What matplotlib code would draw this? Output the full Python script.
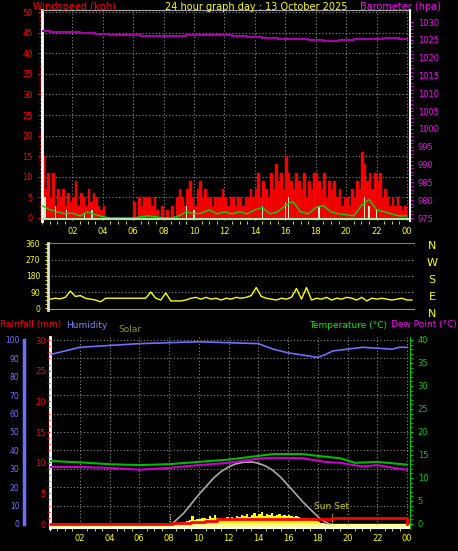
import matplotlib
matplotlib.use("Agg")
import matplotlib.pyplot as plt
import numpy as np

W, H = 458, 551
# ---------------- data ----------------
gust = [15,7,11,5,11,3, 7,5,7,3,6,4, 5,9,3,6,5,3, 7,4,6,5,3,2, 3,0,0,0,0,0, 0,0,0,0,0,0,
        4,0,5,3,5,5, 5,3,5,2,0,3, 0,2,0,3,0,5, 7,5,3,7,9,5, 3,7,9,5,7,5, 5,3,5,5,5,7,
        5,3,5,5,3,5, 5,3,5,5,7,5, 7,11,5,9,7,5, 11,7,13,9,11,7, 15,11,9,7,11,9, 7,11,5,9,7,11,
        11,9,7,11,5,9, 7,9,5,7,3,5, 5,3,7,5,9,7, 16,13,9,11,7,11, 9,11,5,7,5,3, 5,3,5,3,2,3]
avg_wind = [3,2,1.5,1,1.2,0.5,1.5,0.8,0.3,0,0,0,0,0.3,0.5,0.3,0,0,0.5,1.5,1,1.2,2,1,1.5,1,
            1.5,1,2,2.5,1,1.5,3,4,1.5,1,2.5,3,1.5,1,0.8,0.5,3,4.5,2,1.5,1,0.5,0.5]
lull_t = [0.2,0.9,1.6,2.8,3.3,9.5,10.0,14.5,16.0,16.2,18.2,21.2,21.5,22.0]
lull_v = [5,3,2,1,2,3,2,3,4,5,3,5,3,2]
baro = [1027.6,1027.3,1027.3,1027.0,1026.7,1026.5,1026.3,1026.2,1026.2,1026.2,1026.3,1026.3,1026.3,
        1026.0,1025.8,1025.6,1025.3,1025.2,1025.0,1024.8,1025.1,1025.3,1025.3,1025.6,1025.3]
wdir = [50,55,52, 60,95,65, 70,55,50, 45,35,55, 55,55,55, 55,55,55, 55,55,90, 55,45,85,
        40,40,40, 45,55,60, 50,60,50, 55,45,55, 50,60,55, 60,70,115, 65,55,50, 45,55,50,
        60,110,50, 115,45,55, 50,60,45, 55,50,60, 55,45,60, 40,55,50, 55,50,45, 50,55,45, 45]
hum_t = [0,0.5,1.5,2,4,6,10,14,15,16,18,18.5,19,20,21,23,23.5,24]
hum_v = [92,93,95,96,97,98,99,98,95,93,90.5,92,94,95,96,95,96,96]
temp_t = [0,2,4,6,8,10,12,14,15,17,18,19.5,20.5,22,24]
temp_v = [13.7,13.4,13.0,12.8,13.0,13.5,14.0,14.8,15.2,15.2,14.8,14.3,13.3,13.5,12.9]
dew_t = [0,2,4,6,8,10,12,14,15,17,18.5,19.5,21,22,23.5,24]
dew_v = [12.4,12.4,12.2,11.8,12.2,12.8,13.3,14.2,14.4,14.3,13.5,13.3,12.5,12.8,12.0,11.8]
rain_t = [0,8.3,9.5,10.4,11.2,19.0,24.0]
rain_v = [0,0.1,0.3,0.5,0.8,1.0,0]
solar_v = [0,0,2,5,8,10, 12,15,20,45,20,25, 25,30,35,25,45,30, 50,30,35,25,35,40,
           35,40,35,45,40,50, 45,55,40,50,60,45, 55,65,45,55,50,60, 45,50,55,45,50,45,
           50,45,40,45,40,35, 35,30,25,20,35,15, 10,5,3,0,0,0]
solar_max_t = [8.2,9,9.5,10,10.5,11,11.5,12,12.5,13,13.6,14,14.5,15,15.5,16,16.5,17,17.5,18,18.4,18.8]
solar_max_v = [0,60,110,160,205,250,285,310,327,335,337,330,315,290,255,210,165,120,80,40,15,0]
sunrise, sunset = 8.05, 18.95
hour_labels = ["02","04","06","08","10","12","14","16","18","20","22","00"]

# ---------------- helpers ----------------
fig = plt.figure(figsize=(W/100, H/100), dpi=100, facecolor="black")
def rect(x0, y0, x1, y1):
    return [x0/W, 1-y1/H, (x1-x0)/W, (y1-y0)/H]
GRID = dict(color="#8a8a8a", linestyle=(0,(1,2)), linewidth=0.8)
FS = 6
def style(ax):
    ax.set_facecolor("black")
    for s in ax.spines.values():
        s.set_visible(False)
    ax.tick_params(labelsize=FS)
def hours(ax, xmax):
    ax.set_xlim(0, xmax)
    ax.set_xticks(np.arange(2, 25, 2))
    ax.set_xticklabels(hour_labels, color="yellow", fontsize=FS)
    ax.set_xticks(np.arange(0, 24.01, 0.5), minor=True)
    ax.tick_params(axis="x", which="both", colors="yellow", length=2)
    ax.tick_params(axis="x", which="major", length=0, pad=4, labelcolor="yellow")

# ---------------- top panel ----------------
ax1 = fig.add_axes(rect(42, 10, 410, 221))
style(ax1)
hours(ax1, 24.2)
ax1.set_ylim(-0.73, 50.5)
ax1.set_yticks(np.arange(0, 51, 5))
ax1.set_yticks(np.arange(0, 51, 1), minor=True)
ax1.tick_params(axis="y", which="both", colors="red", labelcolor="red", length=2)
ax1.tick_params(axis="y", which="major", length=3)
for y in range(5, 51, 5):
    ax1.axhline(y, **GRID, zorder=0)
for x in range(2, 25, 2):
    ax1.axvline(x, **GRID, zorder=0)
ax1.spines["left"].set_visible(True); ax1.spines["left"].set_color("white"); ax1.spines["left"].set_linewidth(2)
ax1.spines["top"].set_visible(True); ax1.spines["top"].set_color("#aaaaaa")
tg = np.arange(len(gust)) / 6
ax1.bar(tg, gust, width=1/6, align="edge", color="#ff0000", edgecolor="#cc0000", linewidth=0.3, zorder=2)
ax1.bar(lull_t, lull_v, width=0.1, color="#c8eec8", zorder=3)
ax1.plot(np.arange(len(avg_wind))*0.5, avg_wind, color="#00dd00", lw=1, zorder=4)
ax1.axhline(-0.3, color="#b0e8b0", lw=1.5, zorder=4)
axb = ax1.twinx()
style(axb)
axb.set_ylim(974.16, 1033.4)
axb.set_yticks(np.arange(975, 1031, 5))
axb.set_yticks(np.arange(975, 1031, 1), minor=True)
axb.tick_params(axis="y", which="both", colors="#ff00ff", labelcolor="#ff00ff", length=2)
axb.spines["right"].set_visible(True); axb.spines["right"].set_color("white"); axb.spines["right"].set_linewidth(1.5)
axb.plot(np.arange(25), baro, color="#aa00aa", lw=1.5, drawstyle="steps-mid")
HF = 7
fig.text(33/W, 1-7/H, "Windspeed (kph)", color="red", fontsize=HF, va="center")
fig.text(256/W, 1-7/H, "24 hour graph day : 13 October 2025", color="yellow", fontsize=HF, va="center", ha="center")
fig.text(441/W, 1-7/H, "Barometer (hpa)", color="#ff00ff", fontsize=HF, va="center", ha="right")

# ---------------- wind direction panel ----------------
ax2 = fig.add_axes(rect(48, 243, 415, 310))
style(ax2)
ax2.set_xlim(-0.15, 24.2)
ax2.set_xticks([])
ax2.set_ylim(-11, 365)
ax2.set_yticks([0, 90, 180, 270, 360])
ax2.set_yticks(np.arange(0, 361, 22.5), minor=True)
ax2.tick_params(axis="y", which="both", colors="yellow", labelcolor="yellow", length=2, labelsize=5.5)
for y in [90, 180, 270]:
    ax2.axhline(y, **GRID, zorder=0)
ax2.axhline(365, color="#999999", lw=1.2); ax2.axhline(-11, color="#999999", lw=1.5)
ax2.spines["left"].set_visible(True); ax2.spines["left"].set_color("#dddddd"); ax2.spines["left"].set_linewidth(2)
ax2.plot(np.arange(len(wdir))/3, wdir, color="yellow", lw=1.0)
for lab, yy in zip("NWSEN", [246, 263, 280, 297, 314]):
    fig.text(432/W, 1-yy/H, lab, color="yellow", fontsize=8, ha="center", va="center")

# ---------------- bottom panel ----------------
ax3 = fig.add_axes(rect(50, 337, 410, 528))
style(ax3)
hours(ax3, 24.2)
ax3.set_ylim(-2.2, 101.6)
ax3.set_yticks([])
for y in range(10, 101, 10):
    ax3.axhline(y, **GRID, zorder=0)
for x in range(2, 25, 2):
    ax3.axvline(x, **GRID, zorder=0)
ax3.spines["left"].set_visible(True); ax3.spines["left"].set_color("white"); ax3.spines["left"].set_linewidth(2)
ax3.spines["bottom"].set_visible(True); ax3.spines["bottom"].set_color("white"); ax3.spines["bottom"].set_linewidth(1.5)
ax3.axhspan(-2.2, 0, color="#ffff99", zorder=1)
ax3.plot(hum_t, hum_v, color="#7070ff", lw=1.2, zorder=5)

axs = ax3.twinx(); style(axs); axs.set_yticks([])
axs.set_ylim(-21.7, 1016)
ts = 8 + np.arange(len(solar_v)) / 6
axs.fill_between(ts, solar_v, 0, color="yellow", step="post", lw=0, zorder=2)
axs.plot(solar_max_t, solar_max_v, color="#aaaaaa", lw=1.2, zorder=3)
for x in (sunrise, sunset):
    axs.plot([x, x], [0, 60], color="yellow", lw=0.8, linestyle=(0,(1,1)))
axs.text(sunset, 70, "Sun Set", color="#cccc00", fontsize=6.5, ha="center", va="bottom")

axt = ax3.twinx(); style(axt)
axt.set_ylim(-0.87, 40.65)
axt.set_yticks(np.arange(0, 41, 5))
axt.set_yticks(np.arange(0, 41, 1), minor=True)
axt.tick_params(axis="y", which="both", colors="#00cc00", labelcolor="#00cc00", length=2)
axt.spines["right"].set_visible(True); axt.spines["right"].set_color("#00cc00")
axt.plot(dew_t, dew_v, color="#cc00cc", lw=1.5, zorder=4)
axt.plot(temp_t, temp_v, color="#00bb00", lw=1.5, zorder=5)

axr = ax3.twinx(); style(axr)
axr.set_ylim(-0.65, 30.49)
axr.yaxis.tick_left()
axr.set_yticks(np.arange(0, 31, 5))
axr.set_yticks(np.arange(0, 31, 1), minor=True)
axr.tick_params(axis="y", which="both", colors="red", labelcolor="red", length=2, pad=1)
axr.plot(rain_t, rain_v, color="red", lw=2, drawstyle="steps-post", zorder=6)

axh = ax3.twinx(); style(axh)
axh.set_ylim(-2.2, 101.6)
axh.yaxis.tick_left()
axh.spines["left"].set_visible(True)
axh.spines["left"].set_position(("outward", 19))
axh.spines["left"].set_color("#7070ff"); axh.spines["left"].set_linewidth(2.5)
axh.spines["left"].set_bounds(0, 100)
axh.set_yticks(np.arange(0, 101, 10))
axh.tick_params(axis="y", colors="#7070ff", labelcolor="#7070ff", length=0, pad=3, labelsize=5.5)

fig.text(0, 1-325/H, "Rainfall (mm)", color="red", fontsize=6.5, va="center")
fig.text(66/W, 1-325/H, "Humidity", color="#8080ff", fontsize=6.5, va="center")
fig.text(118/W, 1-330/H, "Solar", color="#999900", fontsize=6.5, va="center")
fig.text(387/W, 1-325/H, "Temperature (°C)", color="#00ee00", fontsize=6.5, va="center", ha="right")
fig.text(457/W, 1-325/H, "Dew Point (°C)", color="#ff00ff", fontsize=6.5, va="center", ha="right")

fig.savefig("out.png", dpi=100, facecolor="black")
